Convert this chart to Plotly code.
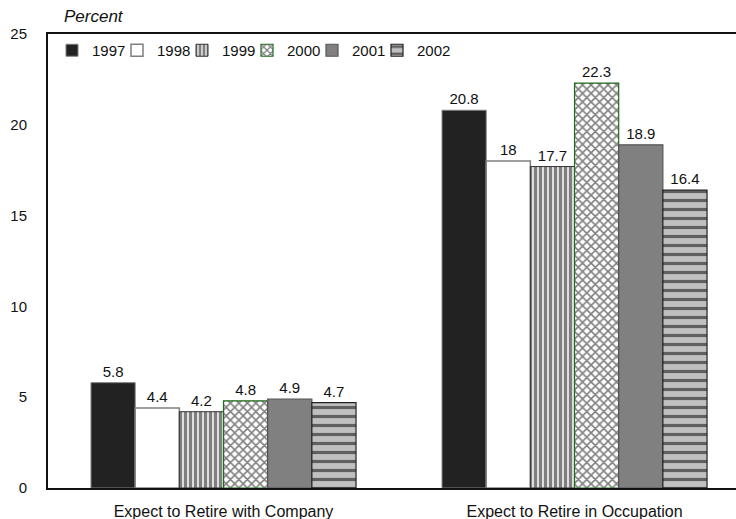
import plotly.graph_objects as go

categories = ["Expect to Retire with Company", "Expect to Retire in Occupation"]
years = ["1997", "1998", "1999", "2000", "2001", "2002"]
values = {
    "1997": [5.8, 20.8],
    "1998": [4.4, 18.0],
    "1999": [4.2, 17.7],
    "2000": [4.8, 22.3],
    "2001": [4.9, 18.9],
    "2002": [4.7, 16.4],
}
value_labels = {
    "1997": ["5.8", "20.8"],
    "1998": ["4.4", "18"],
    "1999": ["4.2", "17.7"],
    "2000": ["4.8", "22.3"],
    "2001": ["4.9", "18.9"],
    "2002": ["4.7", "16.4"],
}
y_ticks = [0, 5, 10, 15, 20, 25]

styles = {
    "1997": dict(color="#222222", line=dict(color="#7f7f7f", width=1)),
    "1998": dict(color="#ffffff", line=dict(color="#7f7f7f", width=1.5)),
    "1999": dict(color="#ffffff", line=dict(color="#333333", width=1),
                 pattern=dict(shape="|", fgcolor="#000000", bgcolor="#ffffff",
                              size=5, solidity=0.7)),
    "2000": dict(color="#ffffff", line=dict(color="#1e6b1e", width=1.2),
                 pattern=dict(shape="x", fgcolor="#000000", bgcolor="#ffffff",
                              size=6, solidity=0.45)),
    "2001": dict(color="#808080", line=dict(color="#555555", width=1.2)),
    "2002": dict(color="#c0c0c0", line=dict(color="#222222", width=1.2),
                 pattern=dict(shape="-", fgcolor="#000000", bgcolor="#c0c0c0",
                              size=9, solidity=0.35)),
}

# one small legend per year so the entries sit in a tight row
plot_left, plot_width = 48, 688
legend_px = [52, 117, 182, 247, 312, 377]

fig = go.Figure()
legend_layout = {}
for i, yr in enumerate(years):
    lid = "legend" if i == 0 else f"legend{i + 1}"
    fig.add_trace(go.Bar(
        name=yr,
        x=categories,
        y=values[yr],
        text=value_labels[yr],
        textposition="outside",
        textfont=dict(size=15, color="#111111"),
        cliponaxis=False,
        marker=styles[yr],
        legend=lid,
    ))
    legend_layout[lid] = dict(
        orientation="h",
        x=(legend_px[i] - plot_left) / plot_width, y=1.0,
        xanchor="left", yanchor="top",
        bgcolor="rgba(0,0,0,0)",
        font=dict(size=15),
        itemwidth=30,
    )

fig.update_layout(
    width=736, height=519,
    margin=dict(l=48, r=0, t=34, b=31),
    paper_bgcolor="white",
    plot_bgcolor="white",
    font=dict(family="Liberation Sans, Arial, sans-serif", size=15, color="#111111"),
    barmode="group",
    bargap=0.245,
    bargroupgap=0,
    showlegend=True,
    xaxis=dict(
        range=[-0.5, 1.46],
        showline=True, linecolor="#111111", linewidth=2, mirror=True,
        showgrid=False, ticks="", tickfont=dict(size=16),
        ticklabelstandoff=8,
    ),
    yaxis=dict(
        range=[0, 25],
        tickvals=y_ticks,
        showline=True, linecolor="#111111", linewidth=2,
        showgrid=False, zeroline=False, ticks="",
        ticklabelstandoff=16,
        tickfont=dict(size=15),
    ),
    annotations=[dict(
        text="<i>Percent</i>", xref="paper", yref="paper",
        x=0.02, y=1.0, xanchor="left", yanchor="bottom", yshift=6,
        showarrow=False, font=dict(size=17),
    )],
    **legend_layout,
)

fig.write_html("out.html")
